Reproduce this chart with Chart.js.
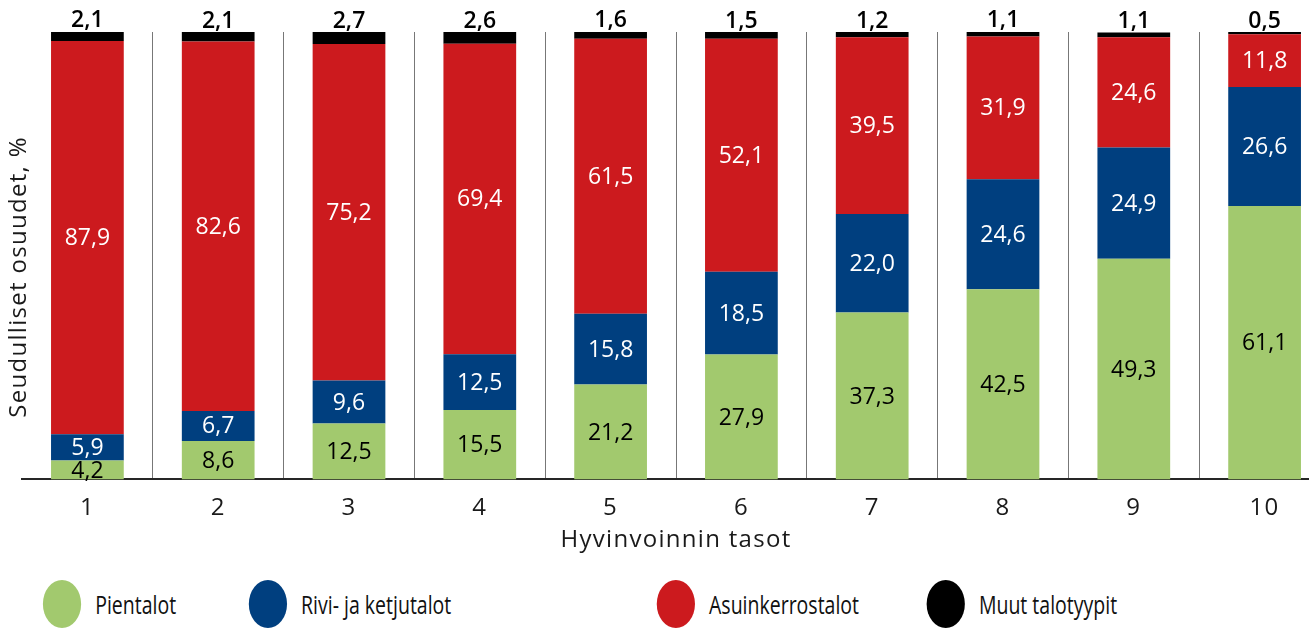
<!DOCTYPE html>
<html lang="fi">
<head>
<meta charset="utf-8">
<script src="https://cdn.jsdelivr.net/npm/chart.js@4.4.1/dist/chart.umd.min.js"></script>
<style>
  html, body { margin: 0; padding: 0; background: #fff; overflow: hidden; }
  #page { position: relative; width: 1309px; height: 630px; overflow: hidden; font-family: "Open Sans", sans-serif; }
  /* chart is a bit wider than the window, the last column is cut like in the original */
  #chartBox { position: absolute; left: 0; top: 0; width: 1340px; height: 555px; }
  /* legend is squeezed sideways in the original picture */
  #legend { position: absolute; left: 0; top: 580px; width: 1700px; height: 48px; transform: scaleX(0.78); transform-origin: 0 0; }
  .item { position: absolute; top: 0; height: 48px; display: flex; align-items: center; }
  .item:nth-child(1) { left: 55px; }
  .item:nth-child(2) { left: 319px; }
  .item:nth-child(3) { left: 842px; }
  .item:nth-child(4) { left: 1188px; }
  .dot { width: 49px; height: 48px; border-radius: 50%; margin-right: 18px; }
  .txt { font-size: 25px; color: #111; white-space: nowrap; }
</style>
</head>
<body>
<div id="page">
  <div id="chartBox"><canvas id="chart"></canvas></div>
  <div id="legend"></div>
</div>
<script>
// data
const tasot       = ['1', '2', '3', '4', '5', '6', '7', '8', '9', '10'];
const pientalot   = [4.2, 8.6, 12.5, 15.5, 21.2, 27.9, 37.3, 42.5, 49.3, 61.1];
const rivitalot   = [5.9, 6.7, 9.6, 12.5, 15.8, 18.5, 22.0, 24.6, 24.9, 26.6];
const kerrostalot = [87.9, 82.6, 75.2, 69.4, 61.5, 52.1, 39.5, 31.9, 24.6, 11.8];
const muut        = [2.1, 2.1, 2.7, 2.6, 1.6, 1.5, 1.2, 1.1, 1.1, 0.5];

const sarjat = ['Pientalot', 'Rivi- ja ketjutalot', 'Asuinkerrostalot', 'Muut talotyypit'];
const varit  = ['#a2c96e', '#003f7f', '#cc1a1e', '#000000'];

const yOtsikko = 'Seudulliset osuudet, %';
const xOtsikko = 'Hyvinvoinnin tasot';

const FONT = '"Open Sans", sans-serif';
Chart.defaults.font.family = FONT;
Chart.defaults.color = '#1a1a1a';

//-----------------------------------------------------------------------------
// the titles in the original are set a little looser than the plain font
//-----------------------------------------------------------------------------
const vali = {
    id: 'vali',
    beforeDraw(chart) { chart.ctx.letterSpacing = '1.3px'; },
    afterDraw(chart)  { chart.ctx.letterSpacing = '0px'; }
};

//-----------------------------------------------------------------------------
// value labels: inside the segments, the last series above the bar
//-----------------------------------------------------------------------------
const arvoLabelit = {
    id: 'arvoLabelit',
    afterDatasetsDraw(chart) {
        const ctx = chart.ctx;
        ctx.save();
        ctx.letterSpacing = '0px';
        ctx.textAlign = 'center';
        ctx.textBaseline = 'middle';
        chart.data.datasets.forEach((ds, i) => {
            const meta = chart.getDatasetMeta(i);
            meta.data.forEach((bar, j) => {
                const txt = ds.data[j].toFixed(1).replace('.', ',');
                if (i === 3) {
                    ctx.font = '600 23px ' + FONT;
                    ctx.fillStyle = '#000';
                    ctx.fillText(txt, bar.x, bar.y - 11);
                } else {
                    ctx.font = '23px ' + FONT;
                    ctx.fillStyle = i === 0 ? '#000' : '#fff';
                    ctx.fillText(txt, bar.x, (bar.y + bar.base) / 2 + 1);
                }
            });
        });
        ctx.restore();
    }
};

//-----------------------------------------------------------------------------
// y title sits partly over the first column, so it is drawn by hand
//-----------------------------------------------------------------------------
const yTitlePlugin = {
    id: 'yTitlePlugin',
    afterDraw(chart) {
        const ctx = chart.ctx;
        ctx.save();
        ctx.letterSpacing = '1.3px';
        ctx.translate(19, 277);
        ctx.rotate(-Math.PI / 2);
        ctx.font = '24px ' + FONT;
        ctx.fillStyle = '#1a1a1a';
        ctx.textAlign = 'center';
        ctx.textBaseline = 'middle';
        ctx.fillText(yOtsikko, 0, 0);
        ctx.restore();
    }
};

const sarjaData = [pientalot, rivitalot, kerrostalot, muut];

const ctx = document.getElementById('chart').getContext('2d');
new Chart(ctx, {
    type: 'bar',
    data: {
        labels: tasot,
        datasets: sarjat.map((nimi, i) => ({
            label: nimi,
            data: sarjaData[i],
            backgroundColor: varit[i],
            borderWidth: 0,
            barPercentage: 0.556,
            categoryPercentage: 1
        }))
    },
    options: {
        responsive: true,
        maintainAspectRatio: false,
        animation: false,
        layout: {
            padding: { left: 22, right: 10, top: 32, bottom: 0 }
        },
        plugins: {
            legend: { display: false },
            tooltip: { enabled: false }
        },
        scales: {
            x: {
                stacked: true,
                offset: true,
                grid: {
                    display: true,
                    offset: true,
                    drawTicks: false,
                    lineWidth: 1,
                    color: c => c.index === 0 ? 'rgba(0,0,0,0)' : '#777'
                },
                border: { display: true, color: '#262626', width: 2 },
                ticks: {
                    padding: 14,
                    color: '#1a1a1a',
                    font: { size: 24 }
                },
                title: {
                    display: true,
                    text: xOtsikko,
                    color: '#1a1a1a',
                    font: { size: 24 },
                    padding: { top: -10, bottom: 0 }
                }
            },
            y: {
                stacked: true,
                display: false,
                min: 0,
                max: 100
            }
        }
    },
    plugins: [vali, arvoLabelit, yTitlePlugin]
});

// legend built from the same series names and colours
const legendEl = document.getElementById('legend');
sarjat.forEach((nimi, i) => {
    const item = document.createElement('div');
    item.className = 'item';
    const dot = document.createElement('div');
    dot.className = 'dot';
    dot.style.background = varit[i];
    const txt = document.createElement('span');
    txt.className = 'txt';
    txt.textContent = nimi;
    item.appendChild(dot);
    item.appendChild(txt);
    legendEl.appendChild(item);
});
</script>
</body>
</html>
